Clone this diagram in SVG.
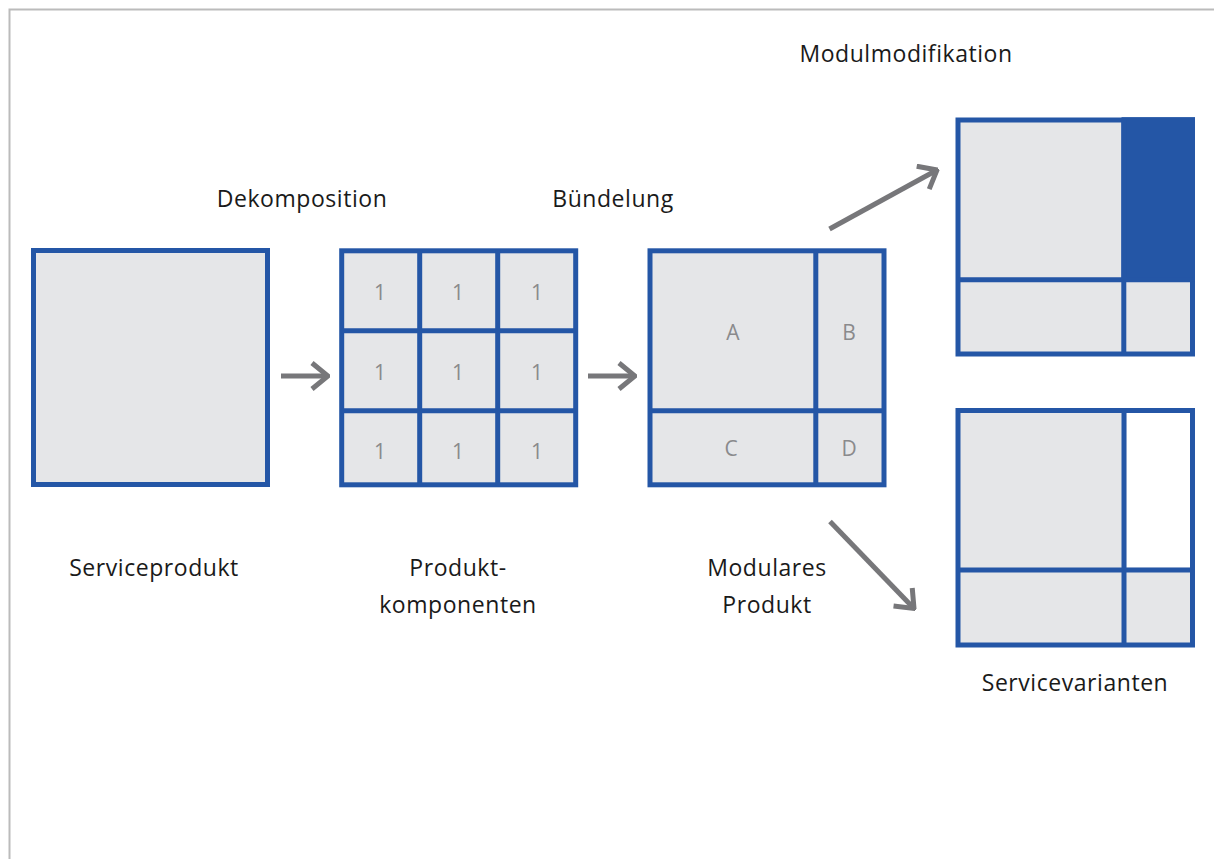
<svg xmlns="http://www.w3.org/2000/svg" width="1214" height="859" viewBox="0 0 1214 859">
<defs>
<style>
.box{fill:#E5E6E8;stroke:#2456A6;stroke-width:5}
.ln{stroke:#2456A6;stroke-width:5;fill:none}
.arr{stroke:#77777A;stroke-width:5;fill:none;stroke-linecap:butt}
.lbl{font-family:"Open Sans","Liberation Sans",sans-serif;font-size:23px;letter-spacing:0.55px;fill:#1a1a1a;text-anchor:middle}
.cell{font-family:"Open Sans","Liberation Sans",sans-serif;font-size:21px;fill:#8a8a8c;text-anchor:middle}
</style>
<marker id="head" viewBox="0 0 20 30" refX="18" refY="15" markerWidth="20" markerHeight="30" markerUnits="userSpaceOnUse" orient="auto">
<path d="M2,2 L18,15 L2,28" fill="none" stroke="#77777A" stroke-width="5"/>
</marker>
</defs>
<rect width="1214" height="859" fill="#fff"/>
<path d="M9.5,859 V9.5 H1214" fill="none" stroke="#BBBBBB" stroke-width="2"/>

<g id="serviceprodukt">
<rect class="box" x="33.5" y="250.5" width="234" height="234"/>
<text class="lbl" x="154" y="576">Serviceprodukt</text>
</g>

<g id="produktkomponenten">
<rect class="box" x="341.7" y="250.8" width="234" height="234"/>
<path class="ln" d="M419.7,250.8 V484.8 M497.7,250.8 V484.8 M341.7,330.8 H575.7 M341.7,410.8 H575.7"/>
<text class="cell" x="380" y="300">1</text>
<text class="cell" x="458" y="300">1</text>
<text class="cell" x="537" y="300">1</text>
<text class="cell" x="380" y="380">1</text>
<text class="cell" x="458" y="380">1</text>
<text class="cell" x="537" y="380">1</text>
<text class="cell" x="380" y="459">1</text>
<text class="cell" x="458" y="459">1</text>
<text class="cell" x="537" y="459">1</text>
<text class="lbl" x="458" y="576">Produkt-</text>
<text class="lbl" x="458" y="613">komponenten</text>
</g>

<g id="modulares-produkt">
<rect class="box" x="650" y="250.8" width="234" height="234"/>
<path class="ln" d="M815.8,250.8 V484.8 M650,410.8 H884"/>
<text class="cell" x="733" y="340">A</text>
<text class="cell" x="849" y="340">B</text>
<text class="cell" x="731" y="456">C</text>
<text class="cell" x="849" y="456">D</text>
<text class="lbl" x="767" y="576">Modulares</text>
<text class="lbl" x="767" y="613">Produkt</text>
</g>

<g id="variante-modifikation">
<rect class="box" x="958" y="120" width="234.5" height="234"/>
<rect x="1121.5" y="117.2" width="73.5" height="164" fill="#2456A6"/>
<path class="ln" d="M1123.8,120 V354 M958,279.7 H1192.5"/>
<text class="lbl" x="906" y="62">Modulmodifikation</text>
</g>

<g id="variante-weglassen">
<rect class="box" x="958" y="410.5" width="234.5" height="234.5"/>
<rect x="1126.5" y="413" width="63.5" height="154.5" fill="#fff"/>
<path class="ln" d="M1124,410.5 V645 M958,570 H1192.5"/>
<text class="lbl" x="1075" y="691">Servicevarianten</text>
</g>

<g id="stufenlabels">
<text class="lbl" x="302" y="207">Dekomposition</text>
<text class="lbl" x="613" y="207">Bündelung</text>
</g>

<g id="connectors">
<line class="arr" x1="281" y1="376" x2="328" y2="376" marker-end="url(#head)"/>
<line class="arr" x1="588" y1="376" x2="635" y2="376" marker-end="url(#head)"/>
<line class="arr" x1="829.5" y1="229" x2="937" y2="170" marker-end="url(#head)"/>
<line class="arr" x1="830" y1="521.5" x2="914" y2="608.5" marker-end="url(#head)"/>
</g>
</svg>
